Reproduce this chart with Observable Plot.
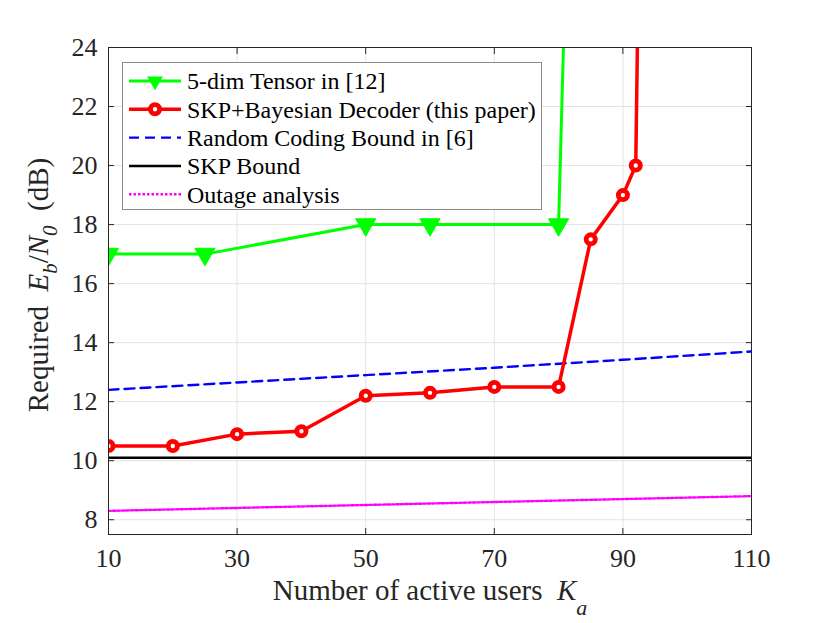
<!DOCTYPE html>
<html>
<head>
<meta charset="utf-8">
<script src="https://cdn.jsdelivr.net/npm/d3@7"></script>
<script src="https://cdn.jsdelivr.net/npm/@observablehq/plot@0.6"></script>
<style>
  html, body { margin: 0; padding: 0; background: #fff; }
  #wrap { position: relative; width: 830px; height: 623px; font-family: "Liberation Serif", "Times New Roman", serif; }
  #legend { position: absolute; left: 122px; top: 62px; width: 418px; height: 146px; border: 1.2px solid #8c8c8c; background: #fff; }
</style>
</head>
<body>
<div id="wrap"></div>
<script>
// ---- data ----
const xTicks = [10, 30, 50, 70, 90, 110];
const yTicks = [8, 10, 12, 14, 16, 18, 20, 22, 24];

const usersTensor = [10, 25, 50, 60, 80, 81];
const ebn0Tensor  = [17, 17, 18, 18, 18, 26];

const usersSKP = [10, 20, 30, 40, 50, 60, 70, 80, 85, 90, 92, 93];
const ebn0SKP  = [10.5, 10.5, 10.9, 11.0, 12.2, 12.3, 12.5, 12.5, 17.5, 19, 20, 36];

const usersBound = [10, 30, 50, 70, 90, 110];
const ebn0RCB      = [12.4, 12.65, 12.9, 13.15, 13.42, 13.7];
const ebn0SKPBound = [10.1, 10.1, 10.1, 10.1, 10.1, 10.1];
const ebn0Outage   = [8.3, 8.4, 8.5, 8.6, 8.7, 8.8];

const seriesNames = [
  "5-dim Tensor in [12]",
  "SKP+Bayesian Decoder (this paper)",
  "Random Coding Bound in [6]",
  "SKP Bound",
  "Outage analysis"
];
const seriesColors = ["#00ff00", "#ff0000", "#0000ff", "#000000", "#ff00ff"];

// ---- tables ----
const toRows = (xs, ys) => xs.map((x, i) => ({x, y: ys[i]}));
const tensor = toRows(usersTensor, ebn0Tensor);
const skp = toRows(usersSKP, ebn0SKP);
const rcb = toRows(usersBound, ebn0RCB);
const skpBound = toRows(usersBound, ebn0SKPBound);
const outage = toRows(usersBound, ebn0Outage);

const font = '"Liberation Serif", "Times New Roman", serif';

const chart = Plot.plot({
  width: 830,
  height: 623,
  marginTop: 47,
  marginLeft: 108,
  marginRight: 79,
  marginBottom: 89,
  style: { fontFamily: font, fontSize: "26px", color: "#262626", background: "#fff" },
  x: { domain: [10, 110], label: null },
  y: { domain: [7.5, 24], label: null },
  marks: [
    Plot.gridX(xTicks, { stroke: "#e3e3e3", strokeOpacity: 1, strokeWidth: 1 }),
    Plot.gridY(yTicks, { stroke: "#e3e3e3", strokeOpacity: 1, strokeWidth: 1 }),
    // inward tick marks on all four sides
    Plot.axisX(xTicks, { anchor: "bottom", tickSize: -6, tickFormat: () => "", stroke: "#262626" }),
    Plot.axisX(xTicks, { anchor: "top", tickSize: -6, tickFormat: () => "", stroke: "#262626" }),
    Plot.axisY(yTicks, { anchor: "left", tickSize: -6, tickFormat: () => "", stroke: "#262626" }),
    Plot.axisY(yTicks, { anchor: "right", tickSize: -6, tickFormat: () => "", stroke: "#262626" }),
    // tick labels
    Plot.axisX(xTicks, { anchor: "bottom", tickSize: 0, tickPadding: 14, fontSize: 26, fill: "#262626" }),
    Plot.axisY(yTicks, { anchor: "left", tickSize: 0, tickPadding: 11, fontSize: 26, fill: "#262626" }),
    // series
    Plot.line(outage, { x: "x", y: "y", stroke: seriesColors[4], strokeWidth: 2.4, strokeDasharray: "2.5,2", clip: true }),
    Plot.line(skpBound, { x: "x", y: "y", stroke: seriesColors[3], strokeWidth: 2.5, clip: true }),
    Plot.line(rcb, { x: "x", y: "y", stroke: seriesColors[2], strokeWidth: 2.4, strokeDasharray: "10,6", clip: true }),
    Plot.line(tensor, { x: "x", y: "y", stroke: seriesColors[0], strokeWidth: 3, clip: true }),
    Plot.dot(tensor, { x: "x", y: "y", symbol: "triangle", rotate: 180, r: 7.5, fill: seriesColors[0], stroke: seriesColors[0], strokeWidth: 1, clip: true }),
    Plot.line(skp, { x: "x", y: "y", stroke: seriesColors[1], strokeWidth: 3.5, clip: true }),
    Plot.dot(skp, { x: "x", y: "y", r: 4.6, fill: "#fff", stroke: seriesColors[1], strokeWidth: 4.8, clip: true }),
    Plot.frame({ stroke: "#262626", strokeWidth: 1 })
  ]
});

const wrap = document.getElementById("wrap");
wrap.appendChild(chart);

const svg = d3.select(chart);
// x label
const xl = svg.append("text")
  .attr("x", 430).attr("y", 600)
  .attr("text-anchor", "middle")
  .attr("font-family", font).attr("font-size", 29).attr("fill", "#262626");
xl.append("tspan").text("Number of active users\u00a0\u00a0");
xl.append("tspan").attr("font-style", "italic").text("K");
xl.append("tspan").attr("font-style", "italic").attr("font-size", 22).attr("dy", 15).text("a");

// y label
const yl = svg.append("text")
  .attr("transform", "translate(48,285) rotate(-90)")
  .attr("text-anchor", "middle")
  .attr("font-family", font).attr("font-size", 29).attr("fill", "#262626");
yl.append("tspan").text("Required\u00a0\u00a0");
yl.append("tspan").attr("font-style", "italic").text("E");
yl.append("tspan").attr("font-style", "italic").attr("font-size", 21).attr("dy", 9).text("b");
yl.append("tspan").attr("dy", -9).text("/");
yl.append("tspan").attr("font-style", "italic").text("N");
yl.append("tspan").attr("font-style", "italic").attr("font-size", 21).attr("dy", 9).text("0");
yl.append("tspan").attr("dy", -9).text("\u00a0\u00a0(dB)");

// legend
const leg = document.createElement("div");
leg.id = "legend";
wrap.appendChild(leg);
const ls = d3.select(leg).append("svg").attr("width", 418).attr("height", 146);
seriesNames.forEach((name, i) => {
  const cy = 18 + i * 28.3;
  const g = ls.append("g");
  const line = g.append("line").attr("x1", 6).attr("x2", 58).attr("y1", cy).attr("y2", cy)
    .attr("stroke", seriesColors[i]);
  if (i === 0) {
    line.attr("stroke-width", 3);
    g.append("path").attr("d", d3.symbol(d3.symbolTriangle, 110)()).attr("transform", `translate(32,${cy}) rotate(180)`)
      .attr("fill", seriesColors[i]);
  } else if (i === 1) {
    line.attr("stroke-width", 3.5);
    g.append("circle").attr("cx", 32).attr("cy", cy).attr("r", 4.6).attr("fill", "#fff")
      .attr("stroke", seriesColors[i]).attr("stroke-width", 4.8);
  } else if (i === 2) {
    line.attr("stroke-width", 2.4).attr("stroke-dasharray", "10,6");
  } else if (i === 3) {
    line.attr("stroke-width", 2.5);
  } else {
    line.attr("stroke-width", 2.4).attr("stroke-dasharray", "2.5,2");
  }
  g.append("text").attr("x", 64).attr("y", cy).attr("dy", "0.35em")
    .attr("font-family", font).attr("font-size", 24).attr("fill", "#000").text(name);
});
</script>
</body>
</html>
